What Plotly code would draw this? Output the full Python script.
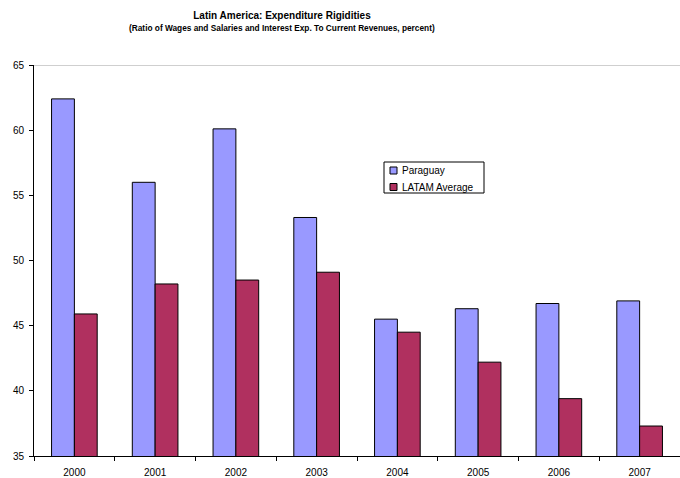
import plotly.graph_objects as go

# Chart data
years = ["2000", "2001", "2002", "2003", "2004", "2005", "2006", "2007"]
paraguay = [62.4, 56.0, 60.1, 53.3, 45.5, 46.3, 46.7, 46.9]
latam_avg = [45.9, 48.2, 48.5, 49.1, 44.5, 42.2, 39.4, 37.3]
series_names = ["Paraguay", "LATAM Average"]
series_colors = ["#9999FF", "#B0305F"]

y_min, y_max, y_step = 35, 65, 5

font_family = "Liberation Sans, Arial, sans-serif"

W, H = 680, 478
M_L, M_R, M_T, M_B = 34, 0, 65, 22
PLOT_W = W - M_L - M_R
PLOT_H = H - M_T - M_B


def px_x(px):
    """Horizontal pixel position -> paper coordinate."""
    return (px - M_L) / PLOT_W


def px_y(px):
    """Vertical pixel position (from top) -> paper coordinate."""
    return (H - M_B - px) / PLOT_H


fig = go.Figure()
for name, vals, color in zip(series_names, [paraguay, latam_avg], series_colors):
    fig.add_trace(go.Bar(
        name=name, x=years, y=vals,
        marker=dict(color=color, line=dict(color="#000000", width=1)),
    ))

fig.update_layout(
    width=W, height=H,
    margin=dict(l=M_L, r=M_R, t=M_T, b=M_B),
    paper_bgcolor="white", plot_bgcolor="white",
    font=dict(family=font_family, size=10, color="#000000"),
    barmode="group", bargap=0.435, bargroupgap=0,
    title=dict(
        text="<b>Latin America: Expenditure Rigidities</b>",
        x=282 / W, xref="container", xanchor="center",
        y=1 - 15 / H, yref="container", yanchor="middle",
        font=dict(family=font_family, size=10, color="#000000"),
    ),
    showlegend=False,
)

fig.add_annotation(
    text="<b>(Ratio of Wages and Salaries and Interest Exp. To Current Revenues, percent)</b>",
    xref="paper", yref="paper", x=px_x(282), y=px_y(28),
    xanchor="center", yanchor="middle", showarrow=False,
    font=dict(family=font_family, size=8.3, color="#000000"),
)

# Boxed legend inside the plot area
fig.add_shape(
    type="rect", xref="paper", yref="paper",
    x0=px_x(384), x1=px_x(484), y0=px_y(162), y1=px_y(193),
    line=dict(color="#000000", width=1), fillcolor="white",
)
for i, (name, color) in enumerate(zip(series_names, series_colors)):
    cy = 170.5 + i * 16.5
    fig.add_shape(
        type="rect", xref="paper", yref="paper",
        x0=px_x(390), x1=px_x(397), y0=px_y(cy - 3.5), y1=px_y(cy + 3.5),
        line=dict(color="#000000", width=1), fillcolor=color,
    )
    fig.add_annotation(
        text=name, xref="paper", yref="paper", x=px_x(400), y=px_y(cy),
        xanchor="left", yanchor="middle", showarrow=False,
        font=dict(family=font_family, size=10, color="#000000"),
    )

fig.update_xaxes(
    type="category", showline=True, linecolor="#000000", linewidth=1,
    ticks="outside", ticklen=4, tickcolor="#000000", tickson="boundaries",
    showgrid=False, ticklabelstandoff=7,
    tickfont=dict(family=font_family, size=10, color="#000000"),
)
fig.update_yaxes(
    range=[y_min, y_max], dtick=y_step, tick0=y_min,
    showline=True, linecolor="#000000", linewidth=1,
    ticks="outside", ticklen=4, tickcolor="#000000",
    showgrid=False, zeroline=False, ticklabelstandoff=3,
    tickfont=dict(family=font_family, size=10, color="#000000"),
)

# Gray reference line along the top of the value axis
fig.add_shape(
    type="line", xref="paper", yref="y", x0=0, x1=1, y0=y_max, y1=y_max,
    line=dict(color="#A0A0A0", width=1), layer="below",
)

fig.write_html("out.html")
